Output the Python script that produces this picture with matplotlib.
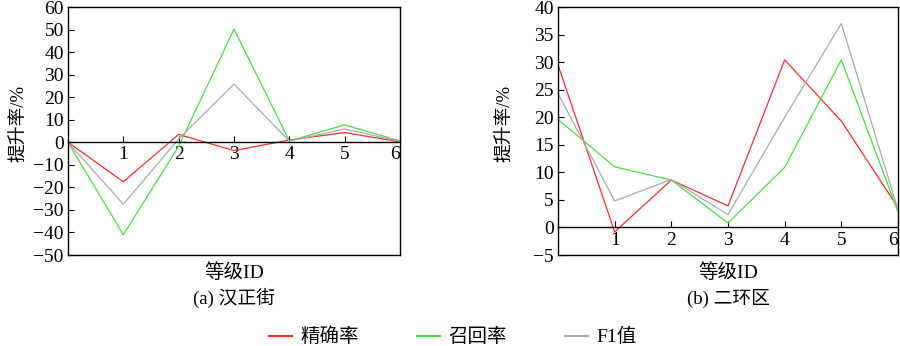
import numpy as np
import matplotlib
matplotlib.use("Agg")
import matplotlib.pyplot as plt
from matplotlib.lines import Line2D

plt.rcParams['font.family'] = ['Liberation Serif', 'Noto Sans CJK SC']
plt.rcParams['axes.unicode_minus'] = True

# grade IDs
grade = [0, 1, 2, 3, 4, 5, 6]
tick_labels = ['1', '2', '3', '4', '5', '6']

# (a) Hanzhengjie
prec_a = [0, -17.5, 3.5, -3.7, 1.0, 4.3, 0.2]
recall_a = [0, -41.0, -1.8, 50.2, 0.6, 7.7, 0.6]
f1_a = [0, -27.5, 1.5, 25.8, 0.5, 5.9, 0.4]

# (b) Erhuanqu
prec_b = [29.5, -0.8, 8.6, 3.9, 30.4, 19.3, 3.6]
recall_b = [19.6, 11.0, 8.6, 0.8, 10.9, 30.4, 2.8]
f1_b = [24.3, 4.8, 8.7, 2.3, 20.0, 37.0, 3.2]

series_names = ['精确率', '召回率', 'F1值']
colors = ['#ff2a2a', '#44e03c', '#a3adb2']

fig = plt.figure(figsize=(9, 3.46), dpi=100)
ax_a = fig.add_axes([68 / 900, 91 / 346, 332 / 900, 248 / 346])
ax_b = fig.add_axes([558 / 900, 91 / 346, 340 / 900, 248 / 346])


def draw_panel(ax, ys, ylim, yticks, xlab, title, ylab_x):
    for y, c in zip(ys, colors):
        ax.plot(grade, y, color=c, lw=0.9)
    ax.set_xlim(0, 6)
    ax.set_ylim(*ylim)
    ax.set_yticks(yticks)
    # x axis runs along y=0, box border kept at the bottom
    ax.spines['bottom'].set_position(('data', 0))
    ax.plot([0, 1], [0, 0], transform=ax.transAxes, color='black',
            lw=1.0, clip_on=False)
    for s in ax.spines.values():
        s.set_linewidth(1.0)
    ax.set_xticks(grade[1:])
    ax.set_xticklabels(tick_labels)
    ax.tick_params(axis='x', direction='in', length=4, width=0.8, pad=3,
                   labelsize=14)
    ax.tick_params(axis='y', direction='in', length=4, width=0.8, pad=3,
                   labelsize=14)
    ax.set_ylabel('提升率/%', fontsize=13.5)
    ax.yaxis.set_label_coords(ylab_x, 0.53)
    ax.text(0.5, -0.07, xlab, transform=ax.transAxes, ha='center',
            va='center', fontsize=14)
    ax.text(0.5, -0.175, title, transform=ax.transAxes, ha='center',
            va='center', fontsize=13.5)
    # keep the last label inside the box
    last = ax.get_xticklabels()[-1]
    last.set_horizontalalignment('right')


draw_panel(ax_a, [prec_a, recall_a, f1_a], (-50, 60),
           np.arange(-50, 61, 10), '等级ID', '(a) 汉正街', -0.12)
draw_panel(ax_b, [prec_b, recall_b, f1_b], (-5, 40),
           np.arange(-5, 41, 5), '等级ID', '(b) 二环区', -0.13)

handles = [Line2D([], [], color=c, lw=1.5) for c in colors]
fig.legend(handles, series_names, loc='center', bbox_to_anchor=(0.503, 9 / 346),
           ncol=3, frameon=False, fontsize=14, handlelength=1.2,
           handletextpad=0.4, columnspacing=3.0)

fig.savefig('out.png', dpi=100)
